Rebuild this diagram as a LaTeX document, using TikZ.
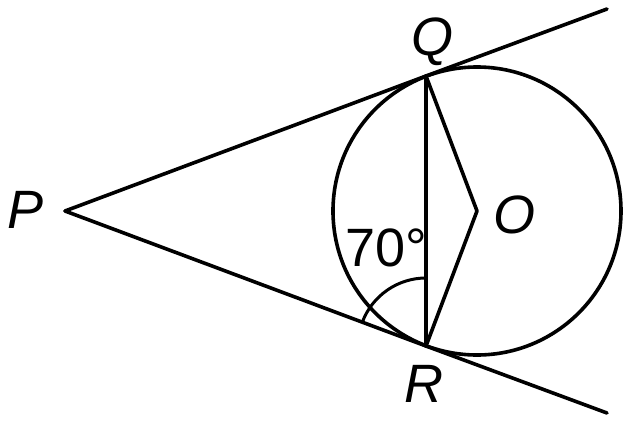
\documentclass[tikz,border=0pt]{standalone}
\usepackage{fontspec}
\setmainfont{Liberation Sans}
\begin{document}
\begin{tikzpicture}[x=1pt,y=-1pt,
  geo/.style={line width=3.6pt,line cap=round,line join=round},
  lbl/.style={font=\fontsize{54}{60}\selectfont\itshape,inner sep=0pt}]
\useasboundingbox (0,0) rectangle (625,424);
\coordinate (P) at (65,211);
\coordinate (O) at (477,211);
\coordinate (Q) at (426,76);
\coordinate (R) at (426,346);
\coordinate (Qe) at (607,9);
\coordinate (Re) at (607,413);
\draw[geo] (O) circle[radius=144];
\draw[geo] (P) -- (Q) -- (Qe);
\draw[geo] (P) -- (R) -- (Re);
\draw[geo] (Q) -- (R);
\draw[geo] (Q) -- (O) -- (R);
\draw[line width=3pt] ([shift={(200.5:68)}]R) arc[start angle=200.5,end angle=270,radius=68];
% note: y axis flipped, angles measured accordingly
\node[lbl] (lQ) at (432,42) {Q};
\node[lbl] (lR) at (424,384) {R};
\node[lbl] (lP) at (26,210) {P};
\node[lbl] (lO) at (514,215) {O};
\node[lbl,font=\fontsize{54}{60}\selectfont] (l70) at (386,248) {70°};
\end{tikzpicture}
\end{document}
